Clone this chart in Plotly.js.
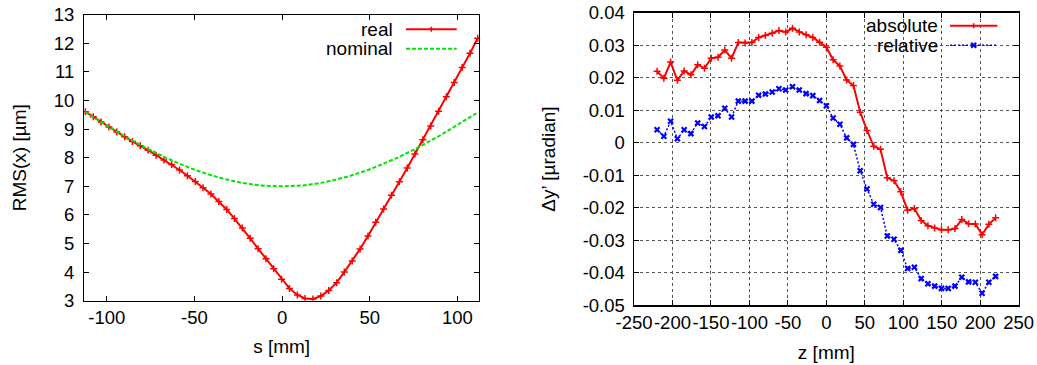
<!DOCTYPE html>
<html>
<head>
<meta charset="utf-8">
<script src="https://cdn.plot.ly/plotly-3.0.1.min.js"></script>
<style>
html,body{margin:0;padding:0;background:#fff;}
#chart{width:1037px;height:365px;}
</style>
</head>
<body>
<div id="chart"></div>
<script>
// ---- Left panel: RMS(x) vs s ----
var sPos = [-112.2,-107.7,-103.3,-98.8,-94.3,-89.8,-85.4,-80.9,-76.4,-71.9,-67.4,-63.0,-58.5,-54.0,-49.5,-45.1,-40.6,-36.1,-31.6,-27.2,-22.7,-18.2,-13.7,-9.2,-4.8,-0.3,4.2,8.7,13.1,17.6,22.1,26.6,31.1,35.5,40.0,44.5,49.0,53.4,57.9,62.4,66.9,71.4,75.8,80.3,84.8,89.3,93.7,98.2,102.7,107.2,111.6];
var rmsReal = [9.61,9.43,9.25,9.07,8.90,8.73,8.57,8.42,8.26,8.09,7.92,7.76,7.57,7.37,7.17,6.95,6.73,6.47,6.19,5.87,5.54,5.18,4.82,4.47,4.12,3.75,3.43,3.20,3.08,3.06,3.16,3.36,3.63,4.00,4.39,4.81,5.26,5.74,6.21,6.69,7.16,7.64,8.13,8.63,9.11,9.62,10.13,10.63,11.15,11.65,12.18];
var rmsNominal = [9.60,9.42,9.25,9.08,8.91,8.75,8.60,8.45,8.30,8.17,8.03,7.91,7.79,7.68,7.57,7.48,7.39,7.31,7.24,7.18,7.12,7.08,7.04,7.02,7.01,7.00,7.01,7.02,7.04,7.08,7.12,7.18,7.24,7.31,7.39,7.48,7.57,7.68,7.79,7.91,8.03,8.17,8.30,8.45,8.60,8.75,8.91,9.08,9.25,9.42,9.58];
var sTicks = [-100,-50,0,50,100];
var sTickText = ['-100','-50','0','50','100'];
var rmsTicks = [3,4,5,6,7,8,9,10,11,12,13];
var rmsTickText = ['3','4','5','6','7','8','9','10','11','12','13'];

// ---- Right panel: delta y' vs z ----
var zPos = [-220,-211.2,-202.4,-193.6,-184.8,-176,-167.2,-158.4,-149.6,-140.8,-132,-123.2,-114.4,-105.6,-96.8,-88,-79.2,-70.4,-61.6,-52.8,-44,-35.2,-26.4,-17.6,-8.8,0,8.8,17.6,26.4,35.2,44,52.8,61.6,70.4,79.2,88,96.8,105.6,114.4,123.2,132,140.8,149.6,158.4,167.2,176,184.8,193.6,202.4,211.2,220];
var dyAbsolute = [0.0220,0.0198,0.0248,0.0192,0.0221,0.0209,0.0240,0.0229,0.0260,0.0263,0.0285,0.0260,0.0308,0.0307,0.0308,0.0324,0.0330,0.0337,0.0345,0.0341,0.0352,0.0341,0.0332,0.0324,0.0309,0.0294,0.0255,0.0236,0.0193,0.0176,0.0094,0.0038,-0.0011,-0.0020,-0.0108,-0.0117,-0.0151,-0.0208,-0.0202,-0.0239,-0.0255,-0.0262,-0.0268,-0.0268,-0.0264,-0.0236,-0.0249,-0.0250,-0.0283,-0.0251,-0.0231];
var dyRelative = [0.0040,0.0020,0.0066,0.0012,0.0040,0.0028,0.0061,0.0050,0.0079,0.0083,0.0106,0.0079,0.0128,0.0128,0.0128,0.0146,0.0150,0.0156,0.0166,0.0162,0.0172,0.0162,0.0151,0.0145,0.0130,0.0114,0.0076,0.0057,0.0015,-0.0005,-0.0086,-0.0142,-0.0189,-0.0199,-0.0287,-0.0297,-0.0331,-0.0387,-0.0383,-0.0418,-0.0434,-0.0441,-0.0448,-0.0448,-0.0441,-0.0414,-0.0428,-0.0429,-0.0463,-0.0429,-0.0411];
var zTicks = [-250,-200,-150,-100,-50,0,50,100,150,200,250];
var zTickText = ['-250','-200','-150','-100','-50','0','50','100','150','200','250'];
var dyTicks = [-0.05,-0.04,-0.03,-0.02,-0.01,0,0.01,0.02,0.03,0.04];
var dyTickText = ['-0.05','-0.04','-0.03','-0.02','-0.01','0','0.01','0.02','0.03','0.04'];

var seriesNames = ['real','nominal','absolute','relative'];

var W = 1037, H = 365;
function px(x){return x/W;}
function py(y){return 1 - y/H;}

var FONT = {family:'"Liberation Sans", Arial, Helvetica, sans-serif', size:18.5, color:'#000'};
var KEYFONT = {family:'"Liberation Sans", Arial, Helvetica, sans-serif', size:19, color:'#000'};
var TITLEFONT = {family:'"Liberation Sans", Arial, Helvetica, sans-serif', size:19, color:'#000'};
var GREEN = '#00e600';

var traces = [
  {x:sPos, y:rmsReal, name:seriesNames[0], type:'scatter', mode:'lines+markers',
   line:{color:'#ff0000', width:2},
   marker:{symbol:'cross-thin', size:5, color:'#ff0000', line:{color:'#ff0000', width:1.5}},
   xaxis:'x', yaxis:'y'},
  {x:sPos, y:rmsNominal, name:seriesNames[1], type:'scatter', mode:'lines',
   line:{color:GREEN, width:2, dash:'4px,2px', shape:'spline'},
   xaxis:'x', yaxis:'y'},
  {x:zPos, y:dyAbsolute, name:seriesNames[2], type:'scatter', mode:'lines+markers',
   line:{color:'#ff0000', width:2},
   marker:{symbol:'cross-thin', size:5, color:'#ff0000', line:{color:'#ff0000', width:1.5}},
   xaxis:'x2', yaxis:'y2'},
  {x:zPos, y:dyRelative, name:seriesNames[3], type:'scatter', mode:'lines+markers',
   line:{color:'#0000ff', width:1.5, dash:'2px,2px'},
   marker:{symbol:'x-thin', size:5, color:'#0000ff', line:{color:'#0000ff', width:2.2}},
   xaxis:'x2', yaxis:'y2'}
];

function axisBase(){
  return {showline:true, linecolor:'#000', linewidth:1, mirror:'allticks',
          ticks:'inside', ticklen:5, tickcolor:'#000', tickwidth:1, tickangle:0,
          zeroline:false, showgrid:false, tickfont:FONT, automargin:false, fixedrange:true};
}

var xa = axisBase();
Object.assign(xa, {domain:[px(84), px(479.3)], range:[-113, 112.5], tickmode:'array',
  tickvals:sTicks, ticktext:sTickText, anchor:'y',
  title:{text:'s [mm]', font:TITLEFONT, standoff:12}});
var ya = axisBase();
Object.assign(ya, {domain:[py(300.7), py(14.7)], range:[3, 13], tickmode:'array',
  tickvals:rmsTicks, ticktext:rmsTickText, anchor:'x', ticklabelstandoff:5,
  title:{text:'RMS(x) [µm]', font:TITLEFONT, standoff:22}});

var xa2 = axisBase();
Object.assign(xa2, {domain:[px(634), px(1018.7)], range:[-250, 250], tickmode:'array',
  tickvals:zTicks, ticktext:zTickText, anchor:'y2', linewidth:1.5,
  showgrid:true, gridcolor:'#555', griddash:'dot', gridwidth:1,
  title:{text:'z [mm]', font:TITLEFONT, standoff:13}});
var ya2 = axisBase();
Object.assign(ya2, {domain:[py(305.3), py(12.7)], range:[-0.05, 0.04], tickmode:'array',
  tickvals:dyTicks, ticktext:dyTickText, anchor:'x2', linewidth:1.5, ticklabelstandoff:4,
  title:{text:'Δy’ [µradian]', font:TITLEFONT, standoff:22},
  showgrid:true, gridcolor:'#555', griddash:'dot', gridwidth:1});

// gnuplot-style keys (text right-aligned, sample to the right)
function plusPath(cx, cy, r){
  return 'M'+px(cx-r)+','+py(cy)+' L'+px(cx+r)+','+py(cy)+' M'+px(cx)+','+py(cy-r)+' L'+px(cx)+','+py(cy+r);
}
function xPath(cx, cy, r){
  return 'M'+px(cx-r)+','+py(cy-r)+' L'+px(cx+r)+','+py(cy+r)+' M'+px(cx-r)+','+py(cy+r)+' L'+px(cx+r)+','+py(cy-r);
}
var keyY = [29.3, 48.7, 25.8, 45.2];
var shapes = [
  {type:'rect', xref:'paper', yref:'paper', x0:px(856), x1:px(1008), y0:py(55), y1:py(14), fillcolor:'#fff', line:{width:0}, layer:'between'},
  {type:'line', xref:'paper', yref:'paper', x0:px(406), x1:px(456.7), y0:py(keyY[0]), y1:py(keyY[0]), line:{color:'#ff0000', width:2}},
  {type:'path', xref:'paper', yref:'paper', path:plusPath(431.3, keyY[0], 2.5), line:{color:'#ff0000', width:1.5}},
  {type:'line', xref:'paper', yref:'paper', x0:px(406), x1:px(456.7), y0:py(keyY[1]), y1:py(keyY[1]), line:{color:GREEN, width:2, dash:'4px,2px'}},
  {type:'line', xref:'paper', yref:'paper', x0:px(950), x1:px(997.3), y0:py(keyY[2]), y1:py(keyY[2]), line:{color:'#ff0000', width:2}},
  {type:'path', xref:'paper', yref:'paper', path:plusPath(973.7, keyY[2], 2.5), line:{color:'#ff0000', width:1.5}},
  {type:'line', xref:'paper', yref:'paper', x0:px(950), x1:px(997.3), y0:py(keyY[3]), y1:py(keyY[3]), line:{color:'#0000ff', width:1.5, dash:'2px,2px'}},
  {type:'path', xref:'paper', yref:'paper', path:xPath(973.7, keyY[3], 2.5), line:{color:'#0000ff', width:2.2}}
];
var annotations = [
  {text:seriesNames[0], xref:'paper', yref:'paper', x:px(394), y:py(keyY[0]), xanchor:'right', yanchor:'middle', showarrow:false, font:KEYFONT, borderpad:0},
  {text:seriesNames[1], xref:'paper', yref:'paper', x:px(394), y:py(keyY[1]), xanchor:'right', yanchor:'middle', showarrow:false, font:KEYFONT, borderpad:0},
  {text:seriesNames[2], xref:'paper', yref:'paper', x:px(938.7), y:py(keyY[2]), xanchor:'right', yanchor:'middle', showarrow:false, font:KEYFONT, borderpad:0},
  {text:seriesNames[3], xref:'paper', yref:'paper', x:px(938.7), y:py(keyY[3]), xanchor:'right', yanchor:'middle', showarrow:false, font:KEYFONT, borderpad:0}
];

var layout = {
  width:W, height:H, margin:{l:0, r:0, t:0, b:0},
  paper_bgcolor:'#fff', plot_bgcolor:'#fff',
  showlegend:false, font:FONT,
  xaxis:xa, yaxis:ya, xaxis2:xa2, yaxis2:ya2,
  shapes:shapes, annotations:annotations
};

Plotly.newPlot('chart', traces, layout, {displayModeBar:false, staticPlot:true});
</script>
</body>
</html>
